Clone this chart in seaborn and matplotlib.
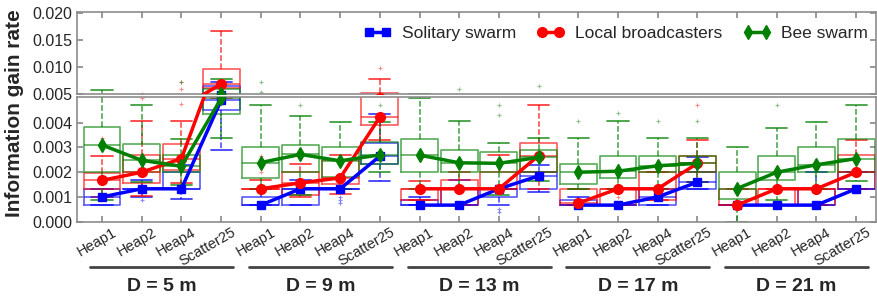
import numpy as np
import pandas as pd
import matplotlib
matplotlib.use("Agg")
import matplotlib.pyplot as plt
import matplotlib.transforms as mtransforms
from matplotlib.lines import Line2D
from matplotlib.ticker import FormatStrFormatter
import seaborn as sns

sns.set_theme(style="white")
plt.rcParams["font.family"] = ["Liberation Sans", "DejaVu Sans"]

# ---------------- data ----------------
distances = ["D = 5 m", "D = 9 m", "D = 13 m", "D = 17 m", "D = 21 m"]
configs = ["Heap1", "Heap2", "Heap4", "Scatter25"]
series_names = ["Solitary swarm", "Local broadcasters", "Bee swarm"]

# Solitary swarm (blue)
b_lo  = [0.00067,0.00100,0.00093,0.00290, 0.00067,0.00067,0.00133,0.00165, 0.00067,0.00067,0.00067,0.00120, 0.00067,0.00067,0.00067,0.00133, 0.00067,0.00067,0.00067,0.00133]
b_q1  = [0.00067,0.00133,0.00133,0.00450, 0.00067,0.00067,0.00133,0.00232, 0.00067,0.00067,0.00100,0.00133, 0.00067,0.00067,0.00067,0.00133, 0.00067,0.00067,0.00067,0.00133]
b_med = [0.00100,0.00133,0.00133,0.00490, 0.00067,0.00133,0.00133,0.00265, 0.00067,0.00067,0.00133,0.00185, 0.00067,0.00067,0.00100,0.00160, 0.00067,0.00067,0.00067,0.00133]
b_q3  = [0.00133,0.00133,0.00200,0.00660, 0.00100,0.00133,0.00133,0.00320, 0.00087,0.00133,0.00133,0.00200, 0.00087,0.00067,0.00133,0.00200, 0.00067,0.00067,0.00133,0.00200]
b_hi  = [0.00133,0.00167,0.00230,0.00720, 0.00133,0.00170,0.00133,0.00437, 0.00100,0.00167,0.00133,0.00230, 0.00100,0.00067,0.00133,0.00260, 0.00067,0.00067,0.00200,0.00200]
b_fl  = [[],[0.00087],[],[], [],[],[0.00100,0.00087,0.00075],[], [],[],[0.00050,0.00040],[], [],[],[],[], [],[],[],[]]

# Local broadcasters (red)
r_lo  = [0.00100,0.00104,0.00155,0.00500, 0.00133,0.00100,0.00110,0.00330, 0.00087,0.00067,0.00133,0.00133, 0.00067,0.00067,0.00087,0.00160, 0.00067,0.00067,0.00067,0.00133]
r_q1  = [0.00133,0.00157,0.00210,0.00620, 0.00133,0.00107,0.00154,0.00390, 0.00087,0.00067,0.00133,0.00200, 0.00067,0.00067,0.00087,0.00200, 0.00067,0.00067,0.00067,0.00133]
r_med = [0.00167,0.00200,0.00255,0.00690, 0.00133,0.00157,0.00177,0.00423, 0.00133,0.00133,0.00133,0.00267, 0.00075,0.00133,0.00133,0.00236, 0.00067,0.00133,0.00133,0.00200]
r_q3  = [0.00195,0.00270,0.00316,0.00970, 0.00133,0.00200,0.00248,0.00530, 0.00133,0.00170,0.00200,0.00318, 0.00133,0.00133,0.00200,0.00267, 0.00133,0.00133,0.00133,0.00269]
r_hi  = [0.00267,0.00406,0.00406,0.01670, 0.00167,0.00233,0.00269,0.00790, 0.00165,0.00200,0.00269,0.00470, 0.00133,0.00133,0.00200,0.00330, 0.00133,0.00133,0.00133,0.00330]
r_fl  = [[0.00339],[0.00500],[0.00475,0.00600,0.00730],[], [0.00200,0.00267],[],[],[0.00990], [],[],[],[], [],[0.00100],[],[0.00470], [],[],[],[]]

# Bee swarm (green)
g_lo  = [0.00087,0.00160,0.00150,0.00337, 0.00133,0.00107,0.00133,0.00200, 0.00133,0.00133,0.00107,0.00165, 0.00133,0.00133,0.00133,0.00160, 0.00000,0.00087,0.00133,0.00165]
g_q1  = [0.00200,0.00201,0.00200,0.00434, 0.00177,0.00200,0.00180,0.00233, 0.00200,0.00200,0.00200,0.00200, 0.00154,0.00177,0.00200,0.00200, 0.00090,0.00167,0.00200,0.00200]
g_med = [0.00310,0.00248,0.00224,0.00498, 0.00239,0.00272,0.00246,0.00270, 0.00269,0.00238,0.00236,0.00260, 0.00200,0.00204,0.00226,0.00236, 0.00134,0.00200,0.00230,0.00255]
g_q3  = [0.00383,0.00316,0.00269,0.00600, 0.00300,0.00312,0.00300,0.00322, 0.00336,0.00289,0.00281,0.00290, 0.00232,0.00266,0.00266,0.00266, 0.00200,0.00266,0.00300,0.00336]
g_hi  = [0.00587,0.00470,0.00336,0.00790, 0.00470,0.00426,0.00403,0.00403, 0.00500,0.00406,0.00318,0.00340, 0.00339,0.00406,0.00340,0.00340, 0.00300,0.00380,0.00403,0.00470]
g_fl  = [[],[],[0.00730],[], [0.00550,0.00730],[0.00470],[],[0.00470], [],[0.00600],[0.00430,0.00470],[0.00660], [0.00406],[0.00440],[0.00406],[0.00406], [],[0.00470],[],[]]

colors = ["#0000ff", "#ff0000", "#008000"]
markers = ["s", "o", "d"]
msizes = [6, 7, 7.5]

series = [
    (b_lo, b_q1, b_med, b_q3, b_hi, b_fl),
    (r_lo, r_q1, r_med, r_q3, r_hi, r_fl),
    (g_lo, g_q1, g_med, g_q3, g_hi, g_fl),
]

n = len(distances) * len(configs)
positions = np.arange(1, n + 1)
group_idx = np.repeat(np.arange(len(distances)), len(configs))

# ---------------- figure ----------------
W, H = 878, 301
fig = plt.figure(figsize=(W / 100, H / 100), dpi=100)
left, right = 77 / W, 876 / W
ax_top = fig.add_axes([left, 1 - 94.3 / H, right - left, (94.3 - 11.7) / H])
ax_bot = fig.add_axes([left, 1 - 221.7 / H, right - left, (221.7 - 97.0) / H])

spine_col = "#8c8c8c"
for ax in (ax_top, ax_bot):
    for (lo, q1, med, q3, hi, fl), c in zip(series, colors):
        stats = [dict(whislo=lo[i], q1=q1[i], med=med[i], q3=q3[i], whishi=hi[i], fliers=fl[i])
                 for i in range(n)]
        ax.bxp(stats, positions=positions, widths=0.93, capwidths=0.53, manage_ticks=False,
               boxprops=dict(color=c, lw=1.2, alpha=0.65),
               medianprops=dict(color=c, lw=1.2, alpha=0.65),
               whiskerprops=dict(color=c, lw=1.1, ls="--", alpha=0.75),
               capprops=dict(color=c, lw=1.3, alpha=0.75),
               flierprops=dict(marker="+", markeredgecolor=c, markersize=3.5, alpha=0.45, mew=0.8))
    for k, ((lo, q1, med, q3, hi, fl), c, m, ms, name) in enumerate(
            zip(series, colors, markers, msizes, series_names)):
        df = pd.DataFrame({"pos": positions, "med": med, "group": group_idx})
        sns.lineplot(data=df, x="pos", y="med", units="group", estimator=None, sort=False,
                     color=c, marker=m, markersize=ms, mec=c, mew=1, lw=2.5,
                     ax=ax, legend=False, zorder=5 + k)
    ax.set_xlim(0.37, 20.5)
    ax.set_xlabel("")
    ax.set_ylabel("")
    for sp in ax.spines.values():
        sp.set_color(spine_col)
        sp.set_linewidth(1.2)
    ax.tick_params(direction="in", length=4, color=spine_col, labelsize=11.5,
                   left=True, right=True)
    ax.yaxis.set_major_formatter(FormatStrFormatter("%.3f"))
    ax.set_xticks(positions)

ax_top.set_ylim(0.005, 0.0202)
ax_top.set_yticks([0.005, 0.010, 0.015, 0.020])
ax_top.tick_params(axis="x", top=True, bottom=False, labelbottom=False)

ax_bot.set_ylim(0, 0.00504)
ax_bot.set_yticks([0.000, 0.001, 0.002, 0.003, 0.004])
ax_bot.tick_params(axis="x", top=False, bottom=True)
ax_bot.set_xticklabels(configs * len(distances), rotation=30, ha="right", va="top",
                       rotation_mode="anchor", fontsize=10.5)
offset = mtransforms.ScaledTranslation(0.10, 0.01, fig.dpi_scale_trans)
for lab in ax_bot.get_xticklabels():
    lab.set_transform(lab.get_transform() + offset)

# group separators
trans = mtransforms.blended_transform_factory(ax_bot.transData, ax_bot.transAxes)
for gi, dname in enumerate(distances):
    c = gi * 4 + 2.5
    ax_bot.plot([c - 1.8, c + 1.8], [-0.36, -0.36], transform=trans, clip_on=False,
                color="#444444", lw=2)
    ax_bot.text(c, -0.52, dname, transform=trans, ha="center", va="center",
                fontsize=14, fontweight="bold")

# y label
fig.text(0.016, 1 - 113 / H, "Information gain rate", rotation=90, ha="center", va="center",
         fontsize=15, fontweight="bold")

# legend
handles = [Line2D([], [], color=c, marker=m, markersize=ms, mec=c, lw=2.5)
           for c, m, ms in zip(colors, markers, msizes)]
ax_top.legend(handles, series_names, ncol=3, loc="center right", frameon=False,
              fontsize=12.5, numpoints=2, handlelength=1.6, handletextpad=0.6,
              columnspacing=1.2, borderaxespad=0, borderpad=0,
              bbox_to_anchor=(0.99, 0.742))

fig.savefig("out.png", dpi=100)
